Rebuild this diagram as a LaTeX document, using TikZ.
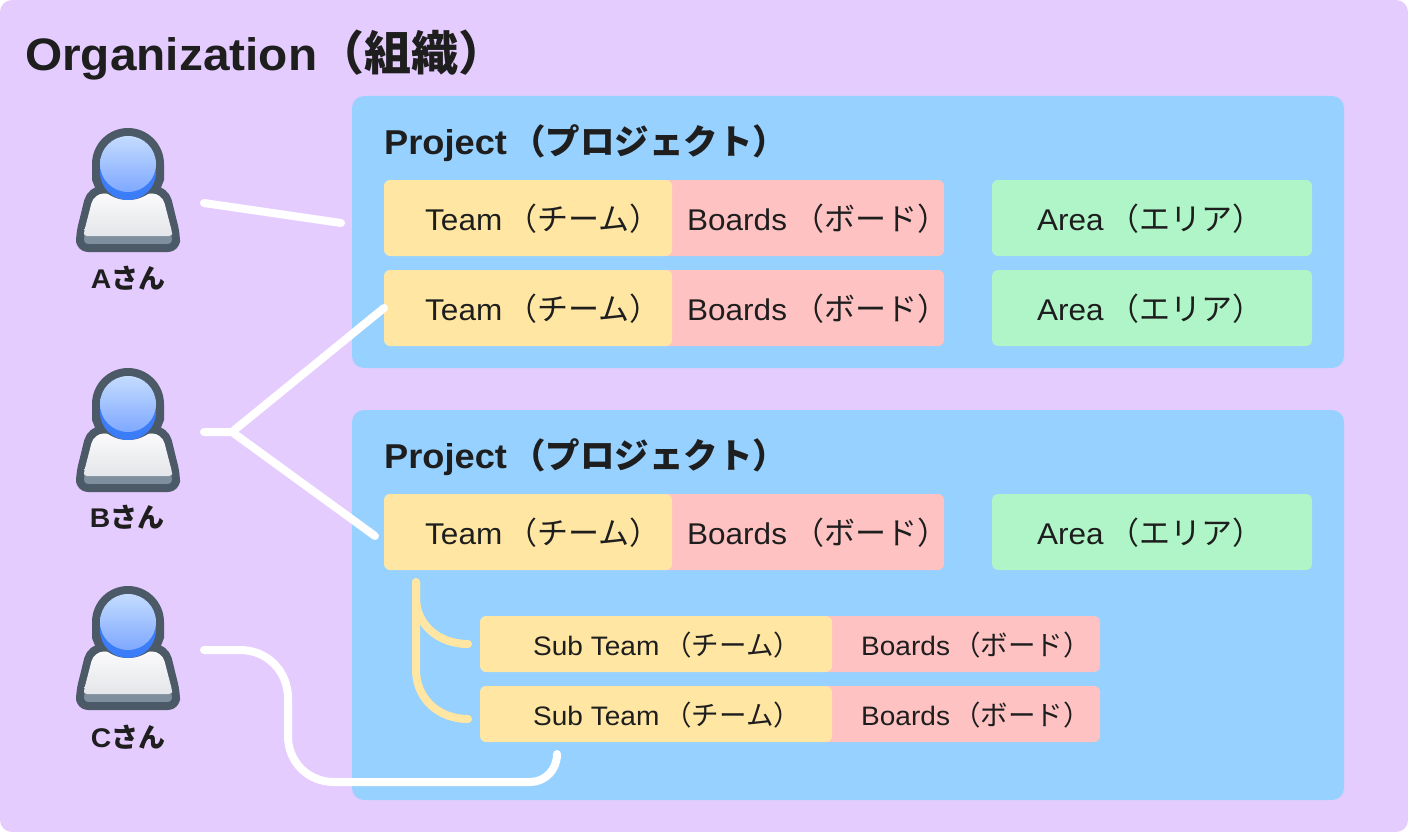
\documentclass[tikz,border=0pt]{standalone}
\usepackage{fontspec}
\setmainfont[FakeStretch=1.05]{Liberation Sans}
\newfontfamily\cjk{Noto Sans CJK JP}
\usetikzlibrary{calc}
\definecolor{orgbg}{HTML}{E5CCFF}
\definecolor{projbg}{HTML}{96D1FF}
\definecolor{teambg}{HTML}{FFE6A3}
\definecolor{boardbg}{HTML}{FFC2C2}
\definecolor{areabg}{HTML}{AFF5C7}
\definecolor{ink}{HTML}{1E1E1E}
\definecolor{slate}{HTML}{4C5A68}
\definecolor{slatelight}{HTML}{7F8F9E}
\definecolor{headtop}{HTML}{C4DCFF}
\definecolor{headbot}{HTML}{7FA8FF}
\definecolor{headblue}{HTML}{3B7DF8}
\definecolor{bodytop}{HTML}{FAFAFB}
\definecolor{bodybot}{HTML}{E4E6E9}
\newcommand{\fs}[1]{\fontsize{#1}{#1}\selectfont}
\newcommand{\ja}[3]{\kern#1pt{\fs{#2}\cjk #3}}
\tikzset{
  x=1pt,y=-1pt,
  projbox/.style={fill=projbg,rounded corners=12pt},
  wire/.style={draw=white,line width=8pt,line cap=round,line join=round},
  subwire/.style={draw=teambg,line width=8pt,line cap=round},
  lbl/.style={anchor=base west,inner sep=0pt,text=ink},
  title/.style={lbl,font=\fs{45.5}\bfseries},
  ptitle/.style={lbl,font=\fs{34.5}\bfseries},
  row/.style={lbl,font=\fs{30}},
  subrow/.style={lbl,font=\fs{26.7}},
  who/.style={anchor=base,inner sep=0pt,text=ink,font=\fs{27}\bfseries},
}
\newcommand{\person}[1]{% top offset
  \begin{scope}[shift={(0,#1)}]
    \draw[slate,fill=slatelight,line width=8pt,line join=round,rounded corners=8pt]
      (128,120) -- (80,120) -- (80,106) [rounded corners=12pt] -- (91,61.5) -- (165,61.5) [rounded corners=8pt] -- (176,106) -- (176,120) -- cycle;
    \shade[top color=bodytop,bottom color=bodybot,rounded corners=3pt]
      (128,108) -- (84,108) -- (84,104) [rounded corners=10pt] -- (94,65.5) -- (162,65.5) [rounded corners=3pt] -- (172,104) -- (172,108) -- cycle;
    \fill[slate] (128,36) circle[radius=36pt];
    \fill[slate] (92,36) -- (92,52) -- (96,62) -- (160,62) -- (164,52) -- (164,36) -- cycle;
    \fill[headblue] (128,44) circle[radius=28pt];
    \shade[top color=headtop,bottom color=headbot] (128,36) circle[radius=28pt];
  \end{scope}
}
\begin{document}
\begin{tikzpicture}
\useasboundingbox (0,0) rectangle (1408,832);
\fill[orgbg,rounded corners=12pt] (0,0) rectangle (1408,832);
\node[title] (orgt) at (25,71) {Organization\ja{0}{47}{（組織）}};

\fill[projbox] (352,96) rectangle (1344,368);
\fill[projbox] (352,410) rectangle (1344,800);
\node[ptitle] (p1t) at (384,154) {Project\ja{4}{34.5}{（プロジェクト）}};
\node[ptitle] (p2t) at (384,468) {Project\ja{4}{34.5}{（プロジェクト）}};

% rows
\foreach \n/\y in {a/180,b/270,c/494}{
  \fill[boardbg,rounded corners=6pt] (660,\y) rectangle (944,\y+76);
  \fill[teambg,rounded corners=6pt] (384,\y) rectangle (672,\y+76);
  \fill[areabg,rounded corners=6pt] (992,\y) rectangle (1312,\y+76);
  \node[row] (team\n) at (425,\y+50) {Team\ja{4}{31}{（チーム）}};
  \node[row] (board\n) at (687,\y+50) {Boards\ja{6}{31}{（ボード）}};
  \node[row] (area\n) at (1037,\y+50) {Area\ja{5}{31}{（エリア）}};
}
\foreach \n/\y in {a/616,b/686}{
  \fill[boardbg,rounded corners=6pt] (820,\y) rectangle (1100,\y+56);
  \fill[teambg,rounded corners=6pt] (480,\y) rectangle (832,\y+56);
  \node[subrow] (sub\n) at (533,\y+39) {Sub Team\ja{5}{27.5}{（チーム）}};
  \node[subrow] (sboard\n) at (861,\y+39) {Boards\ja{3}{27.5}{（ボード）}};
}

% people
\person{128}
\person{368}
\person{586}
\node[who] (la) at (128,288) {A\ja{0}{27}{さん}};
\node[who] (lb) at (127,527) {B\ja{0}{27}{さん}};
\node[who] (lc) at (128,747) {C\ja{0}{27}{さん}};

% connectors
\coordinate (a0) at (204,203);
\coordinate (a1) at (341,223);
\coordinate (b0) at (204,432);
\coordinate (bm) at (232,432);
\coordinate (b1) at (384,308);
\coordinate (b2) at (375,536);
\coordinate (c0) at (204,650);
\coordinate (c1) at (557,754);
\draw[wire] (a0) -- (a1);
\draw[wire] (b0) -- (bm) -- (b1);
\draw[wire] (bm) -- (b2);
\draw[wire] (c0) -- (240,650) .. controls (268,650) and (288,672) .. (288,698) -- (288,736) .. controls (288,762) and (308,782) .. (334,782) -- (530,782) .. controls (545,782) and (557,770) .. (c1);
\coordinate (s0) at (416,582);
\coordinate (s1) at (468,644);
\coordinate (s2) at (468,719);
\draw[subwire] (s0) -- (416,598) .. controls (416,624) and (438,644) .. (s1);
\draw[subwire] (s0) -- (416,670) .. controls (416,698) and (438,719) .. (s2);
\end{tikzpicture}
\end{document}
